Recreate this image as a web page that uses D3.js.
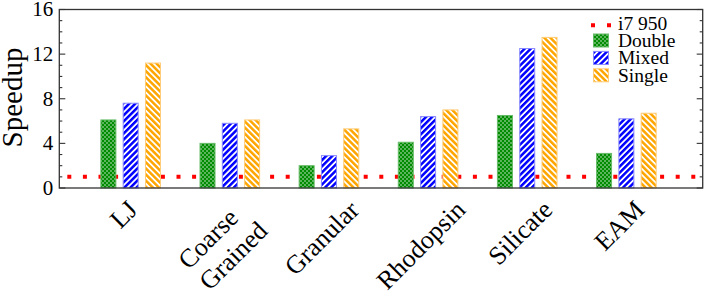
<!doctype html>
<meta charset="utf-8">
<style>
  body { margin: 0; background: #fff; }
</style>
<body>
<script src="https://cdn.jsdelivr.net/npm/d3@7"></script>
<script>

// data
let categories = ["LJ", "Coarse\nGrained", "Granular", "Rhodopsin", "Silicate", "EAM"];
let seriesNames = ["Double", "Mixed", "Single"];
let doubleVals = [6.1, 4.0, 2.0, 4.1, 6.5, 3.1];
let mixedVals  = [7.6, 5.8, 2.9, 6.4, 12.5, 6.2];
let singleVals = [11.2, 6.1, 5.3, 7.0, 13.5, 6.7];
let baseline = 1; // i7 950 reference
let yTicks = [0, 4, 8, 12, 16];

let width = 706, height = 307;
let plot = {left: 59.3, right: 702.7, top: 9.5, bottom: 188};
let serif = "Liberation Serif";

let svg = d3.select("body").append("svg")
    .attr("width", width)
    .attr("height", height);

let y = d3.scaleLinear().domain([0, 16]).range([plot.bottom, plot.top]);
let x = d3.scaleLinear().domain([0.28, 6.77]).range([plot.left, plot.right]);

let barW = 15, barStep = 22.3;

// patterns
let defs = svg.append("defs");

let dots = defs.append("pattern")
    .attr("id", "pat-double")
    .attr("patternUnits", "userSpaceOnUse")
    .attr("width", 4).attr("height", 4);
dots.append("rect").attr("width", 4).attr("height", 4).attr("fill", "#008c00");
dots.append("circle").attr("cx", 1).attr("cy", 1).attr("r", 0.7).attr("fill", "#fff");
dots.append("circle").attr("cx", 3).attr("cy", 3).attr("r", 0.7).attr("fill", "#fff");

function stripes(id, color, angle) {
  let p = defs.append("pattern")
      .attr("id", id)
      .attr("patternUnits", "userSpaceOnUse")
      .attr("width", 4.3).attr("height", 10)
      .attr("patternTransform", "rotate(" + angle + ")");
  p.append("rect").attr("width", 4.3).attr("height", 10).attr("fill", "#fff");
  p.append("rect").attr("width", 2.5).attr("height", 10).attr("fill", color);
}
stripes("pat-mixed", "#0000ff", 45);
stripes("pat-single", "#ffa500", -45);

let fills = ["url(#pat-double)", "url(#pat-mixed)", "url(#pat-single)"];
let edges = ["#66bb66", "#8888ff", "#ffcc77"];
let series = [doubleVals, mixedVals, singleVals];

// reference line (behind the bars)
svg.append("line")
    .attr("x1", plot.left).attr("x2", plot.right)
    .attr("y1", y(baseline)).attr("y2", y(baseline))
    .attr("stroke", "#ff0000")
    .attr("stroke-width", 4)
    .attr("stroke-dasharray", "4 11.6")
    .attr("stroke-dashoffset", 7.6);

// bars
series.forEach((vals, s) => {
  svg.append("g").selectAll("rect")
    .data(vals)
    .enter().append("rect")
      .attr("x", (d, i) => x(i + 1) + (s - 1) * barStep - barW / 2)
      .attr("y", d => y(d))
      .attr("width", barW)
      .attr("height", d => y(0) - y(d))
      .attr("fill", fills[s])
      .attr("stroke", edges[s])
      .attr("stroke-width", 1);
});

// frame
svg.append("rect")
    .attr("x", plot.left).attr("y", plot.top)
    .attr("width", plot.right - plot.left)
    .attr("height", plot.bottom - plot.top)
    .attr("fill", "none")
    .attr("stroke", "#333")
    .attr("stroke-width", 1.3);

// ticks, inward on left and right
let minor = d3.range(0, 17).filter(v => v % 4 !== 0);
let tickG = svg.append("g").attr("stroke", "#333").attr("stroke-width", 1.1);
yTicks.forEach(v => {
  tickG.append("line").attr("x1", plot.left).attr("x2", plot.left + 6).attr("y1", y(v)).attr("y2", y(v));
  tickG.append("line").attr("x1", plot.right).attr("x2", plot.right - 6).attr("y1", y(v)).attr("y2", y(v));
});
minor.forEach(v => {
  tickG.append("line").attr("x1", plot.left).attr("x2", plot.left + 3).attr("y1", y(v)).attr("y2", y(v));
  tickG.append("line").attr("x1", plot.right).attr("x2", plot.right - 3).attr("y1", y(v)).attr("y2", y(v));
});

svg.append("g").selectAll("text")
  .data(yTicks)
  .enter().append("text")
    .attr("x", plot.left - 6)
    .attr("y", d => y(d))
    .attr("dy", "0.33em")
    .attr("text-anchor", "end")
    .attr("font-family", serif)
    .attr("font-size", 21)
    .text(d => d);

// y axis title
svg.append("text")
    .attr("transform", "translate(22,97.5) rotate(-90)")
    .attr("text-anchor", "middle")
    .attr("font-family", serif)
    .attr("font-size", 29)
    .text("Speedup");

// category labels, rotated -45, bbox centred under the group
categories.forEach((c, i) => {
  let g = svg.append("g");
  let t = g.append("text")
      .attr("transform", "rotate(-45)")
      .attr("font-family", serif)
      .attr("font-size", 26);
  c.split("\n").forEach((line, k) => {
    t.append("tspan").attr("x", 0).attr("dy", k === 0 ? 0 : "1.15em").text(line);
  });
  let b = g.node().getBoundingClientRect();
  let cx = x(i + 1) - 7;
  let dx = cx - (b.left + b.width / 2);
  let dy = 195 - b.top;
  g.attr("transform", "translate(" + dx + "," + dy + ")");
});

// legend
let leg = svg.append("g");
leg.append("line")
    .attr("x1", 591).attr("x2", 611)
    .attr("y1", 25.3).attr("y2", 25.3)
    .attr("stroke", "#ff0000")
    .attr("stroke-width", 4)
    .attr("stroke-dasharray", "4 12");
leg.append("text").attr("x", 618).attr("y", 29.5)
    .attr("font-family", serif).attr("font-size", 19.5).text("i7 950");
seriesNames.forEach((n, s) => {
  let yy = 47 + s * 17.4;
  leg.append("rect")
      .attr("x", 593.5).attr("y", yy - 13)
      .attr("width", 15).attr("height", 13)
      .attr("fill", fills[s])
      .attr("stroke", edges[s])
      .attr("stroke-width", 1);
  leg.append("text").attr("x", 618).attr("y", yy)
      .attr("font-family", serif).attr("font-size", 19.5).text(n);
});

</script>
</body>
